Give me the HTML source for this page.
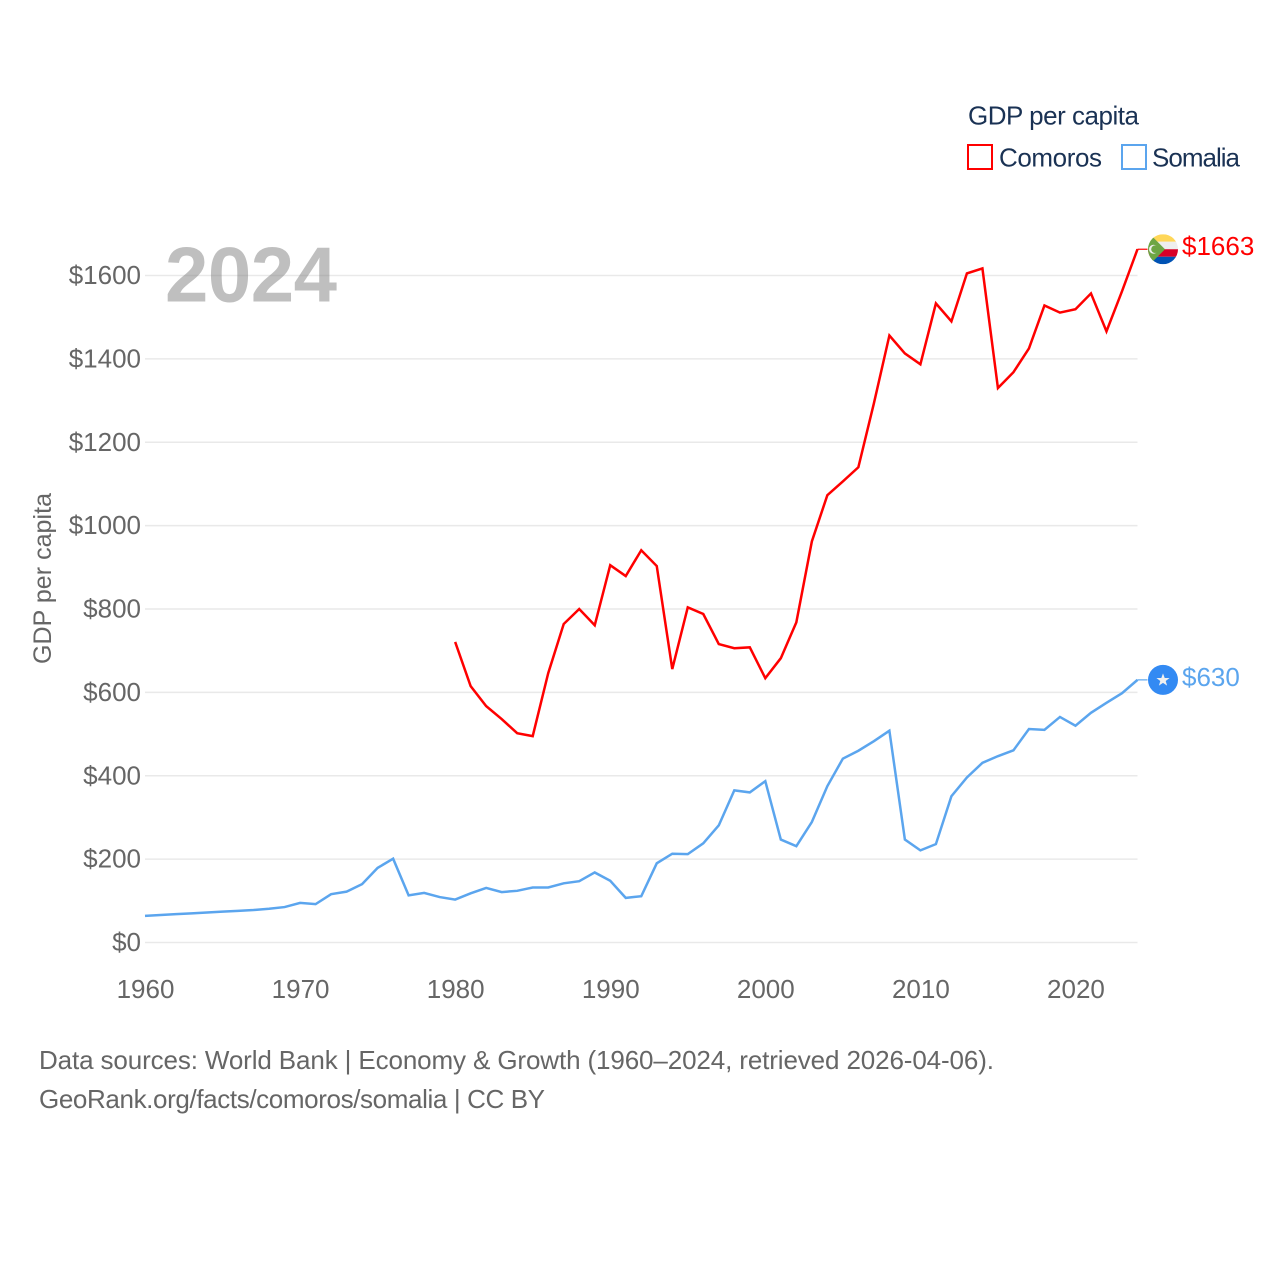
<!DOCTYPE html>
<html lang="en">
<head>
<meta charset="utf-8">
<title>GDP per capita: Comoros and Somalia</title>
<style>
html,body{margin:0;padding:0;background:#fff;}
svg{display:block;}
text{font-family:"Liberation Sans",Arial,sans-serif;}
</style>
</head>
<body>
<svg id="chart" xmlns="http://www.w3.org/2000/svg" width="1280" height="1280" viewBox="0 0 1280 1280">
  <defs>
    <clipPath id="flag-clip-a"><circle cx="0" cy="0" r="15"/></clipPath>
  </defs>
  <rect x="0" y="0" width="1280" height="1280" fill="#fff"/>
  <g id="grid"></g>
  <text x="165" y="301.5" font-size="78" font-weight="700" fill="#808080" fill-opacity="0.5" textLength="172" lengthAdjust="spacing">2024</text>
  <g id="yticks"></g>
  <g id="xticks"></g>
  <text transform="translate(51,578.5) rotate(-90)" text-anchor="middle" font-size="25" fill="#666" textLength="171" lengthAdjust="spacing">GDP per capita</text>
  <g id="series"></g>
  <g id="ends"></g>

  <g>
    <text x="968" y="124.5" font-size="26" fill="#1a3254" textLength="171" lengthAdjust="spacing">GDP per capita</text>
    <g>
      <rect x="968" y="145" width="24" height="24" fill="none" stroke="#ff0000" stroke-width="2"/>
      <text x="999" y="166.5" font-size="26" fill="#1a3254" textLength="103" lengthAdjust="spacing">Comoros</text>
    </g>
    <g>
      <rect x="1122" y="145" width="24" height="24" fill="none" stroke="#5ba5ee" stroke-width="2"/>
      <text x="1152" y="166.5" font-size="26" fill="#1a3254" textLength="88" lengthAdjust="spacing">Somalia</text>
    </g>
  </g>

  <text x="39" y="1069" font-size="26" fill="#666" textLength="955" lengthAdjust="spacing">Data sources: World Bank | Economy &amp; Growth (1960–2024, retrieved 2026-04-06).</text>
  <text x="39" y="1108" font-size="26" fill="#666" textLength="506" lengthAdjust="spacing">GeoRank.org/facts/comoros/somalia | CC BY</text>
</svg>
<script>
const years = [1960,1961,1962,1963,1964,1965,1966,1967,1968,1969,1970,1971,1972,1973,1974,1975,1976,1977,1978,1979,1980,1981,1982,1983,1984,1985,1986,1987,1988,1989,1990,1991,1992,1993,1994,1995,1996,1997,1998,1999,2000,2001,2002,2003,2004,2005,2006,2007,2008,2009,2010,2011,2012,2013,2014,2015,2016,2017,2018,2019,2020,2021,2022,2023,2024];
const comoros = [null,null,null,null,null,null,null,null,null,null,null,null,null,null,null,null,null,null,null,null,721,615,567,536,502,495,646,764,800,761,905,879,941,903,656,804,788,716,706,708,634,682,768,962,1073,1106,1140,1293,1456,1413,1387,1533,1490,1605,1617,1330,1368,1425,1528,1511,1519,1557,1466,1562,1663];
const somalia = [64,66,68,70,72,74,76,78,81,85,95,92,116,122,140,179,201,113,119,109,103,118,131,121,124,132,132,142,147,168,148,107,111,190,213,212,238,281,365,360,387,247,231,289,375,441,460,483,508,247,221,236,351,396,431,447,461,512,510,541,520,551,575,598,630];
const yTickValues = [0,200,400,600,800,1000,1200,1400,1600];
const xTickValues = [1960,1970,1980,1990,2000,2010,2020];

const NS = 'http://www.w3.org/2000/svg';
const X0 = 145, X1 = 1137.5, Y0 = 942.5, Y1600 = 275.5;
function xScale(year){ return X0 + (year - 1960) * (X1 - X0) / (2024 - 1960); }
function yScale(value){ return Y0 - value * (Y0 - Y1600) / 1600; }
function make(tag, attrs, parent, text){
  const el = document.createElementNS(NS, tag);
  for (const k in attrs) el.setAttribute(k, attrs[k]);
  if (text !== undefined) el.textContent = text;
  parent.appendChild(el);
  return el;
}

const gridGroup = document.getElementById('grid');
const yGroup = document.getElementById('yticks');
const xGroup = document.getElementById('xticks');
const seriesGroup = document.getElementById('series');
const endsGroup = document.getElementById('ends');

yTickValues.forEach(function(v){
  const line = make('line', {x1:X0, x2:X1, y1:yScale(v), y2:yScale(v), stroke:'#e9e9e9', 'stroke-width':1.5}, gridGroup);
  
  
  const label = make('text', {x:141, y:yScale(v) + 8.5, 'text-anchor':'end', 'font-size':26, fill:'#666'}, yGroup, '$' + v);
  
  
});

xTickValues.forEach(function(v){
  const label = make('text', {x:xScale(v) + 0.5, y:998, 'text-anchor':'middle', 'font-size':26, fill:'#666'}, xGroup, String(v));
  
  
});

function drawSeries(values, color, name){
  let d = '';
  let lastYear = null, lastValue = null;
  values.forEach(function(v, i){
    if (v === null) return;
    d += (d ? 'L' : 'M') + xScale(years[i]).toFixed(2) + ' ' + yScale(v).toFixed(2);
    lastYear = years[i];
    lastValue = v;
  });
  const path = make('path', {d:d, fill:'none', stroke:color, 'stroke-width':2.5, 'stroke-linejoin':'miter'}, seriesGroup);
  
  
  const ex = xScale(lastYear), ey = yScale(lastValue);
  const conn = make('line', {x1:ex, x2:ex + 10, y1:ey, y2:ey, stroke:color, 'stroke-width':1.2}, endsGroup);
  
  
  const label = make('text', {x:1182, y:ey + 6, 'font-size':26, fill:color}, endsGroup, '$' + lastValue);
  
  
  const flag = make('g', {transform:'translate(1163,' + ey + ')'}, endsGroup);
  
  
  return flag;
}

const flagC = drawSeries(comoros, '#ff0000', 'comoros');
const flagS = drawSeries(somalia, '#5ba5ee', 'somalia');

const clipC = make('g', {'clip-path':'url(#flag-clip-a)'}, flagC);
make('rect', {x:-15, y:-15, width:30, height:7.5, fill:'#ffd758'}, clipC);
make('rect', {x:-15, y:-7.5, width:30, height:7.5, fill:'#eeeeee'}, clipC);
make('rect', {x:-15, y:0, width:30, height:7.5, fill:'#d80027'}, clipC);
make('rect', {x:-15, y:7.5, width:30, height:7.5, fill:'#0052b4'}, clipC);
make('polygon', {points:'-15,-17 2,0 -15,17', fill:'#6da544'}, clipC);
make('circle', {cx:-9.5, cy:0, r:4.5, fill:'#eeeeee'}, clipC);
make('circle', {cx:-8, cy:0, r:3.8, fill:'#6da544'}, clipC);

make('circle', {cx:0, cy:0, r:15, fill:'#338af3'}, flagS);
make('polygon', {points:'0,-6.5 1.7,-1.9 6.6,-1.9 2.7,1.1 4.1,5.8 0,3 -4.1,5.8 -2.7,1.1 -6.6,-1.9 -1.7,-1.9', fill:'#f0f0f0'}, flagS);
</script>
</body>
</html>
